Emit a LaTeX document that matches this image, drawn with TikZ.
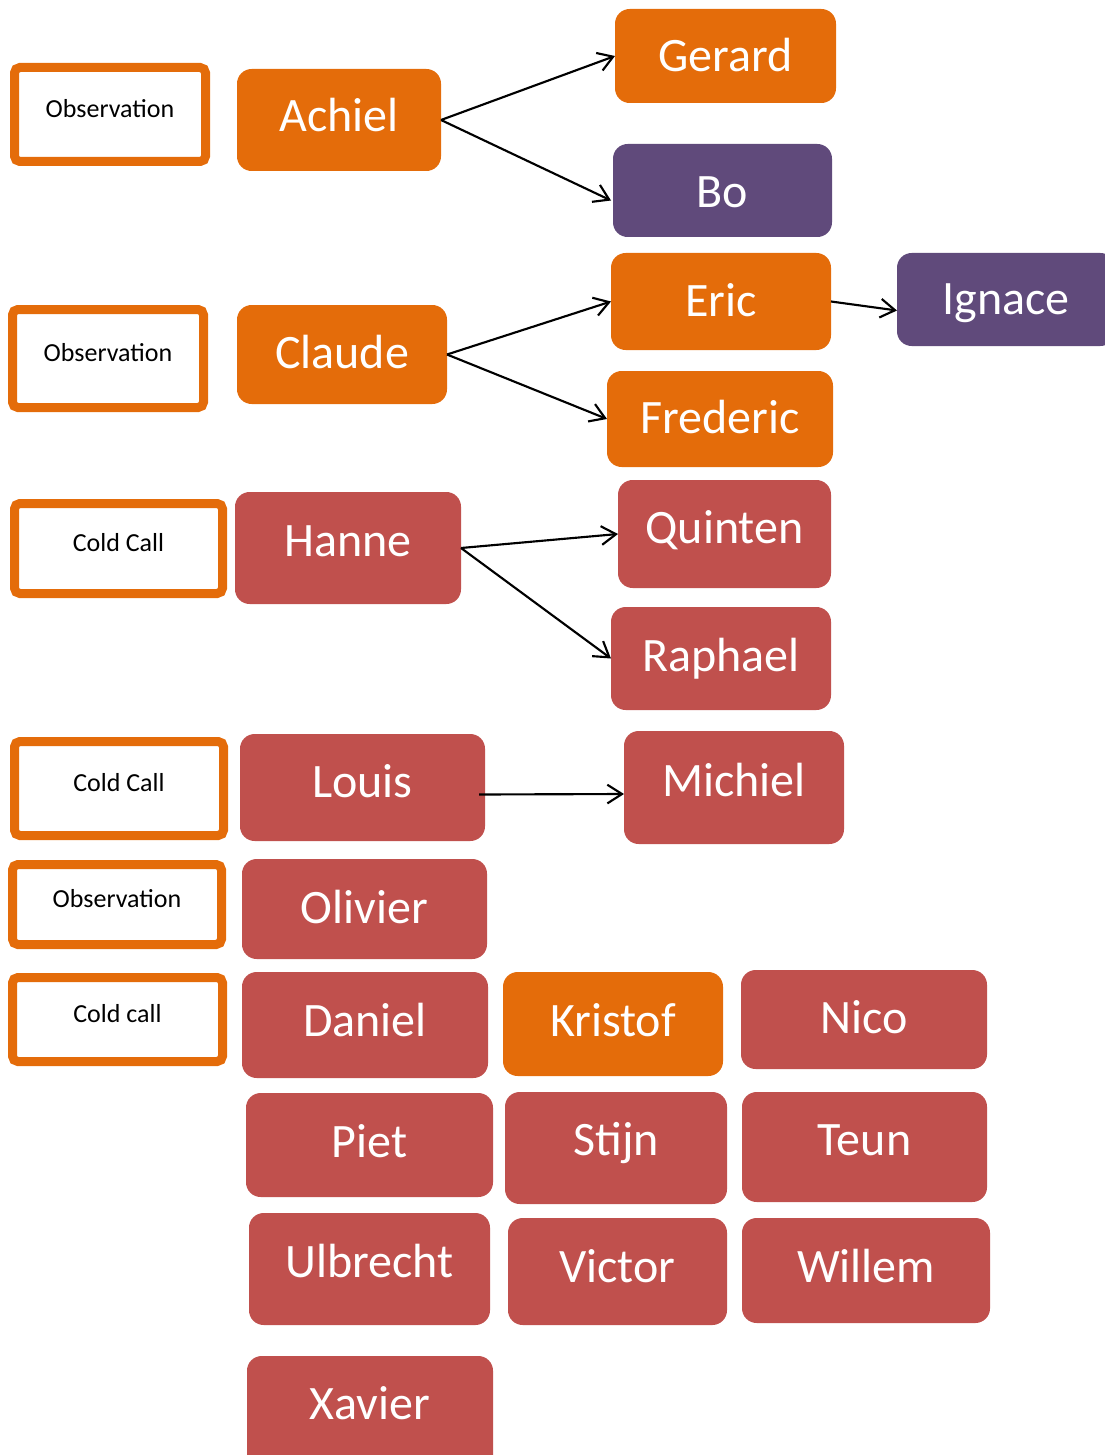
\documentclass[tikz,border=0pt]{standalone}
\usepackage{fontspec}
\setmainfont{Carlito}
\usetikzlibrary{arrows.meta,calc}
\definecolor{ora}{HTML}{E46C0A}
\definecolor{pur}{HTML}{604A7B}
\definecolor{rdd}{HTML}{C0504D}
\newcommand\mybox[7]{%
  \pgfmathsetmacro\mbw{(#5-#3)*0.75}\pgfmathsetmacro\mbh{(#6-#4)*0.75}%
  \node[#2, minimum width=\mbw pt, minimum height=\mbh pt, anchor=north west] (#1) at (#3,#4) {#7};}
\newcommand\up[2]{\raisebox{#1pt}{#2}}
\tikzset{
  personbox/.style={rounded corners=11pt, inner sep=0pt, outer sep=0pt, text=white,
     font=\fontsize{36}{40}\selectfont, text height=23.2pt, text depth=0pt},
  orabox/.style={personbox, fill=ora},
  purbox/.style={personbox, fill=pur},
  redbox/.style={personbox, fill=rdd},
  tagbox/.style={draw=ora, line width=6.75pt, fill=white, rounded corners=4pt, inner sep=0pt, outer sep=0pt,
     font=\fontsize{19.5}{22}\selectfont, text height=12.6pt, text depth=8pt},
  conn/.style={line width=1.6pt, -{Straight Barb[length=11pt,width=14pt,line width=1.6pt]}}
}
\begin{document}
\begin{tikzpicture}[x=0.75pt,y=-0.75pt]
\useasboundingbox (0,0) rectangle (1104,1455);
% tags
\mybox{t1}{tagbox}{14.5}{67.5}{205.5}{161.5}{Observation}
\mybox{t2}{tagbox}{12.5}{309.5}{203.5}{407.5}{Observation}
\mybox{t3}{tagbox}{14.5}{503.5}{222.5}{593.5}{Cold Call}
\mybox{t4}{tagbox}{14.5}{741.5}{223.5}{835.5}{Cold Call}
\mybox{t5}{tagbox}{12.5}{864.5}{221.5}{944.5}{Observation}
\mybox{t6}{tagbox}{12.5}{977.5}{222.5}{1061.5}{Cold call}
% names
\mybox{achiel}{orabox}{237}{69}{441}{171}{\up{2.6}{Achiel}}
\mybox{gerard}{orabox}{615}{9}{836}{103}{Gerard}
\mybox{bo}{purbox}{613}{144}{832}{237}{\up{-1.5}{Bo}}
\mybox{claude}{orabox}{237}{305}{447}{404}{\up{1.1}{Claude}}
\mybox{eric}{orabox}{611}{253}{831}{350}{Eric}
\mybox{ignace}{purbox}{897}{253}{1115}{346}{Ignace}
\mybox{frederic}{orabox}{607}{371}{833}{467}{\up{0.8}{Frederic}}
\mybox{hanne}{redbox}{235}{492}{461}{604}{\up{5.2}{Hanne}}
\mybox{quinten}{redbox}{618}{480}{831}{588}{\up{4.5}{Quinten}}
\mybox{raphael}{redbox}{611}{607}{831}{710}{\up{2.2}{Raphael}}
\mybox{louis}{redbox}{240}{734}{485}{841}{\up{4.1}{Louis}}
\mybox{michiel}{redbox}{624}{731}{844}{844}{\up{5.2}{Michiel}}
\mybox{olivier}{redbox}{242}{859}{487}{959}{\up{0.8}{Olivier}}
\mybox{daniel}{redbox}{242}{972}{488}{1078}{\up{3}{Daniel}}
\mybox{kristof}{orabox}{503}{972}{723}{1076}{\up{2.2}{Kristof}}
\mybox{nico}{redbox}{741}{970}{987}{1069}{\up{1.1}{Nico}}
\mybox{piet}{redbox}{246}{1093}{493}{1197}{\up{2.2}{Piet}}
\mybox{stijn}{redbox}{505}{1092}{727}{1204}{\up{6}{Stijn}}
\mybox{teun}{redbox}{742}{1092}{987}{1202}{\up{5.2}{Teun}}
\mybox{ulbrecht}{redbox}{249}{1213}{490}{1325}{\up{5.2}{Ulbrecht}}
\mybox{victor}{redbox}{508}{1218}{727}{1325}{\up{3.4}{Victor}}
\mybox{willem}{redbox}{742}{1218}{990}{1323}{\up{2.6}{Willem}}
\mybox{xavier}{redbox}{247}{1356}{493}{1470}{\up{6.8}{Xavier}}
% connectors
\draw[conn] (achiel.east) -- (gerard.west);
\draw[conn] (achiel.east) -- ($(bo.west)+(-2,10)$);
\draw[conn] (claude.east) -- (eric.west);
\draw[conn] (claude.east) -- (frederic.west);
\draw[conn] (eric.east) -- ($(ignace.west)+(0,11)$);
\draw[conn] (hanne.east) -- (quinten.west);
\draw[conn] (hanne.east) -- (raphael.west);
\draw[conn] ($(louis.east)+(-6,7)$) -- ($(michiel.west)+(0,6.5)$);
\end{tikzpicture}
\end{document}
